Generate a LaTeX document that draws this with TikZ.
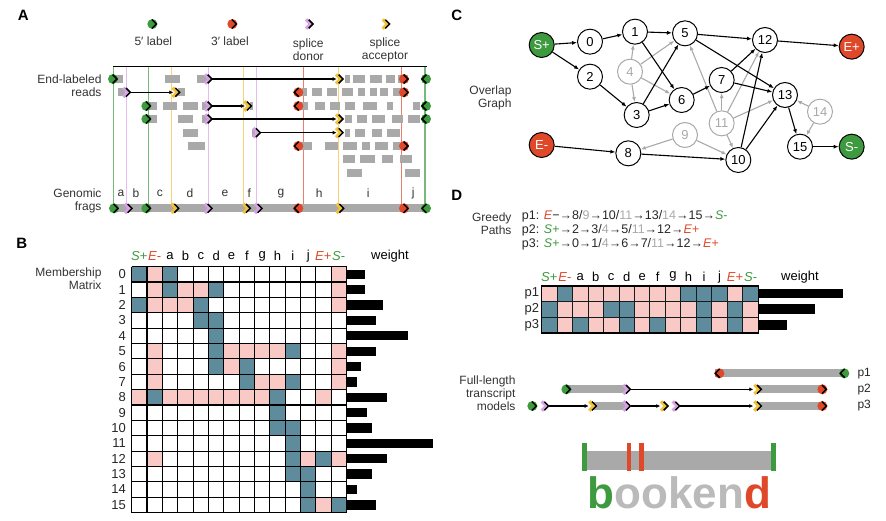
\documentclass[tikz,border=0pt]{standalone}
\usepackage{fontspec}
\setmainfont{Liberation Sans}
\usetikzlibrary{arrows.meta}
\definecolor{cB}{HTML}{5E8C9C}
\definecolor{cP}{HTML}{F9C9C6}
\definecolor{c0}{HTML}{FFFFFF}
\definecolor{mgreen}{HTML}{3E9A3E}
\definecolor{mred}{HTML}{E0482A}
\definecolor{mpink}{HTML}{D9A2E6}
\definecolor{myel}{HTML}{F2C23A}
\definecolor{rgray}{HTML}{A9A9A9}
\newcommand\tmk[4]{%
  \fill[#1] ({#2-(#4)*3},#3) ellipse[x radius=15,y radius=15];
  \draw[line width=1.5pt,line join=miter] ({#2-(#4)*4},#3-13) -- ({#2+(#4)*9},#3) -- ({#2-(#4)*4},#3+13);}
\newcommand\spmk[4]{%
  \draw[#1,line width=3.2pt] ({#2-(#4)*12},#3-14) -- ({#2+(#4)*2},#3) -- ({#2-(#4)*12},#3+14);
  \draw[line width=1.5pt] ({#2-(#4)*4},#3-13) -- ({#2+(#4)*9},#3) -- ({#2-(#4)*4},#3+13);}
\newcommand\blk[3]{\fill[rgray] (#1,#3-12) rectangle (#2,#3+12);}
\begin{document}
\begin{tikzpicture}[x=1pt,y=-1pt,font=\fontsize{12}{13}\selectfont,
  lbl/.style={inner sep=0pt,align=right,anchor=east,text=black!80},
  panel/.style={font=\fontsize{15}{15}\selectfont\bfseries,inner sep=0pt},
  gnode/.style={circle,draw,line width=1pt,minimum size=25pt,inner sep=0pt,fill=white,font=\fontsize{13}{13}\selectfont},
  gg/.style={gnode,draw=rgray,text=rgray},
  ed/.style={-{Latex[length=5pt,width=4pt]},line width=1.1pt},
  eg/.style={ed,rgray},
  rarr/.style={-{Latex[length=4pt,width=4pt]},line width=1.2pt}]
\useasboundingbox (0,0) rectangle (886,520);
%================ A
\begin{scope}[x=0.33333pt,y=-0.33333pt]
\node[panel] (pA) at (70,45) {A};
\draw[line width=1.2pt] (340,200) -- (1280,200);
\foreach \xx/\cc in {340/mgreen,445/mgreen,1275/mgreen,380/mpink,625/mpink,770/mpink,515/myel,730/myel,1015/myel,910/mred,1205/mred}
  \draw[\cc!70,line width=1.1pt] (\xx,200) -- (\xx,625);
% legend
\tmk{mgreen}{460}{72}{1}
\tmk{mred}{700}{72}{1}
\spmk{mpink}{930}{72}{1}
\spmk{myel}{1160}{72}{1}
\node[inner sep=0pt,text=black!80] (l5) at (460,125) {5′ label};
\node[inner sep=0pt,text=black!80] (l3) at (690,125) {3′ label};
\node[inner sep=0pt,text=black!80,align=center] (ld) at (925,150) {splice\\donor};
\node[inner sep=0pt,text=black!80,align=center] (la) at (1155,150) {splice\\acceptor};
\node[lbl] (lr) at (305,257) {End-labeled\\reads};
\node[lbl] (lg) at (305,602) {Genomic\\frags};
% rows
\blk{350}{370}{237}\blk{495}{540}{237}\blk{590}{625}{237}
\foreach \a/\b in {1035/1050,1058/1095,1110/1145,1158/1185,1195/1210} {\blk{\a}{\b}{237}}
\draw[rarr] (635,237) -- (1010,237);
\tmk{mgreen}{342}{237}{1}\spmk{mpink}{627}{237}{1}\spmk{myel}{1020}{237}{1}\tmk{mred}{1215}{237}{1}\tmk{mgreen}{1275}{237}{-1}
%2
\blk{355}{375}{277}\blk{535}{555}{277}
\foreach \a/\b in {905/920,935/965,980/1010,1025/1060,1075/1095,1110/1130,1140/1165,1180/1205} {\blk{\a}{\b}{277}}
\draw[rarr] (390,277) -- (520,277);
\spmk{mpink}{382}{277}{1}\spmk{myel}{530}{277}{1}\tmk{mred}{892}{277}{-1}\tmk{mred}{1215}{277}{1}
%3
\foreach \a/\b in {450/470,488/530,548/595,605/620,750/760,905/925,945/975,990/1020,1035/1065,1090/1130,1160/1180,1240/1260} {\blk{\a}{\b}{318}}
\draw[rarr] (635,318) -- (735,318);
\tmk{mgreen}{442}{318}{1}\spmk{mpink}{627}{318}{1}\spmk{myel}{745}{318}{1}\tmk{mred}{892}{318}{-1}\tmk{mgreen}{1275}{318}{-1}
%4
\foreach \a/\b in {450/470,535/580,605/620,1035/1055,1070/1100,1115/1155,1175/1210,1225/1260} {\blk{\a}{\b}{357}}
\draw[rarr] (635,357) -- (1010,357);
\tmk{mgreen}{442}{357}{1}\spmk{mpink}{627}{357}{1}\spmk{myel}{1020}{357}{1}\tmk{mgreen}{1275}{357}{-1}
%5
\foreach \a/\b in {550/595,755/765,1035/1050,1065/1095,1115/1145,1160/1200} {\blk{\a}{\b}{398}}
\draw[rarr] (780,398) -- (1010,398);
\spmk{mpink}{772}{398}{1}\spmk{myel}{1020}{398}{1}
%6
\foreach \a/\b in {565/615,905/935,975/1015,1030/1070,1085/1110,1125/1165,1180/1200} {\blk{\a}{\b}{438}}
\tmk{mred}{892}{438}{-1}\tmk{mred}{1215}{438}{1}
%7,8
\foreach \a/\b in {1030/1065,1080/1125,1145/1180,1200/1235} {\blk{\a}{\b}{478}}
\foreach \a/\b in {1040/1085,1215/1260} {\blk{\a}{\b}{520}}
% genomic bar
\fill[rgray] (340,613) rectangle (1275,637);
\foreach \t/\xx in {a/363,b/408,c/480,d/570,e/675,f/748,g/843,h/958,i/1105,j/1240}
  \node[inner sep=0pt,text=black!80] at (\xx,580) {\t};
\tmk{mgreen}{345}{625}{1}\spmk{mpink}{387}{625}{1}\tmk{mgreen}{442}{625}{1}\spmk{myel}{527}{625}{1}
\spmk{mpink}{627}{625}{1}\spmk{myel}{742}{625}{1}\spmk{mpink}{777}{625}{1}\tmk{mred}{892}{625}{-1}
\spmk{myel}{1022}{625}{1}\tmk{mred}{1215}{625}{1}\tmk{mgreen}{1275}{625}{-1}
\end{scope}
%================ B
\begin{scope}[shift={(0,230)},x=0.33333pt,y=-0.33333pt]
\node[panel] (pB) at (65,40) {B};
\node[lbl] (mm) at (305,145) {Membership\\Matrix};
\foreach \row [count=\r from 0] in {
 {B,P,B,0,0,0,0,0,0,0,0,0,0,P},{0,P,B,P,P,B,0,0,0,0,0,0,0,P},{B,P,P,P,B,0,0,0,0,0,0,0,0,P},
 {0,0,0,0,B,B,0,0,0,0,0,0,0,0},{0,0,0,0,0,B,0,0,0,0,0,0,0,0},{0,P,0,0,0,B,P,P,P,P,B,0,0,P},
 {0,P,0,0,0,B,P,B,0,0,0,0,0,P},{0,P,0,0,0,0,0,B,P,P,B,0,0,P},{P,B,P,P,P,P,P,P,P,B,0,0,P,0},
 {0,0,0,0,0,0,0,0,0,B,0,0,0,0},{0,0,0,0,0,0,0,0,0,B,B,0,0,0},{0,0,0,0,0,0,0,0,0,0,B,0,0,0},
 {0,P,0,0,0,0,0,0,0,0,B,P,B,P},{0,0,0,0,0,0,0,0,0,0,B,B,0,0},{0,0,0,0,0,0,0,0,0,0,0,B,0,0},
 {0,0,0,0,0,0,0,0,0,0,0,B,P,B}} {
  \node[inner sep=0pt,anchor=east,font=\fontsize{13}{13}\selectfont,text=black!85] at (378,{110+46.1*\r+23}) {\r};
  \foreach \c [count=\k from 0] in \row
    \fill[c\c] ({395+46.07*\k},{110+46.1*\r}) rectangle ++(46.07,46.1);
}
\foreach \k in {0,...,14} \draw[line width=1.1pt] ({395+46.07*\k},110) -- ({395+46.07*\k},847.6);
\foreach \r in {0,...,16} \draw[line width=1.1pt] (395,{110+46.1*\r}) -- (1040,{110+46.1*\r});
\foreach \w [count=\r from 0] in {1095,1095,1148,1128,1225,1128,1083,1072,1160,1100,1115,1300,1160,1115,1070,1128}
  \fill[black] (1042,{110+46.1*\r+9}) rectangle (\w,{110+46.1*\r+37});
\foreach \t [count=\k from 0] in {a,b,c,d,e,f,g,h,i,j}
  \node[inner sep=0pt,font=\fontsize{13}{13}\selectfont] at ({395+46.07*(\k+2)+23},78) {\t};
\node[inner sep=0pt,font=\fontsize{13}{13}\selectfont,text=mgreen] at (418,78) {\textit{S}+};
\node[inner sep=0pt,font=\fontsize{13}{13}\selectfont,text=mred] at (464,78) {\textit{E}-};
\node[inner sep=0pt,font=\fontsize{13}{13}\selectfont,text=mred] at (970,78) {\textit{E}+};
\node[inner sep=0pt,font=\fontsize{13}{13}\selectfont,text=mgreen] at (1016,78) {\textit{S}-};
\node[inner sep=0pt,font=\fontsize{13}{13}\selectfont] at (1170,78) {weight};
\end{scope}
%================ C
\begin{scope}[shift={(450,0)},x=0.33333pt,y=-0.33333pt]
\node[panel] (pC) at (20,45) {C};
\node[lbl] (og) at (185,295) {Overlap\\Graph};
\node[gnode,fill=mgreen,text=white] (Sp) at (275,135) {S+};
\node[gnode,fill=mred,text=white] (Ep) at (1205,140) {E+};
\node[gnode,fill=mred,text=white] (Em) at (275,435) {E-};
\node[gnode,fill=mgreen,text=white] (Sm) at (1205,440) {S-};
\node[gnode] (n0) at (420,125) {0};
\node[gnode] (n1) at (555,95) {1};
\node[gnode] (n5) at (705,100) {5};
\node[gnode] (n12) at (945,120) {12};
\node[gnode] (n2) at (420,230) {2};
\node[gg] (n4) at (540,215) {4};
\node[gnode] (n7) at (815,240) {7};
\node[gnode] (n13) at (1005,285) {13};
\node[gnode] (n6) at (695,300) {6};
\node[gnode] (n3) at (560,345) {3};
\node[gg] (n11) at (815,370) {11};
\node[gg] (n14) at (1110,335) {14};
\node[gg] (n9) at (705,405) {9};
\node[gnode] (n8) at (535,460) {8};
\node[gnode] (n10) at (865,480) {10};
\node[gnode] (n15) at (1050,440) {15};
\foreach \a/\b in {n4/n1,n4/n5,n4/n3,n4/n6,n11/n5,n11/n7,n11/n12,n11/n13,n11/n10,n9/n8,n9/n10,n14/n13,n14/n15}
  \draw[eg] (\a) -- (\b);
\foreach \a/\b in {Sp/n0,Sp/n2,n0/n1,n1/n5,n1/n6,n2/n3,n3/n5,n3/n6,n5/n12,n5/n13,n6/n7,n7/n12,n7/n13,n12/Ep,n13/n15,n15/Sm,Em/n8,n8/n10,n10/n12,n10/n13}
  \draw[ed] (\a) -- (\b);
\end{scope}
%================ D
\begin{scope}[shift={(450,180)},x=0.33333pt,y=-0.33333pt]
\node[panel] (pD) at (20,45) {D};
\node[lbl] (gp) at (185,130) {Greedy\\Paths};
\begin{scope}[every node/.style={inner sep=0pt,anchor=west,font=\fontsize{12.5}{13}\selectfont,text=black!85}]
\node (q1) at (215,110) {p1: \textcolor{mred}{\textit{E}}−→8/\textcolor{rgray}{9}→10/\textcolor{rgray}{11}→13/\textcolor{rgray}{14}→15→\textcolor{mgreen}{\textit{S}-}};
\node (q2) at (215,152) {p2: \textcolor{mgreen}{\textit{S+}}→2→3/\textcolor{rgray}{4}→5/\textcolor{rgray}{11}→12→\textcolor{mred}{\textit{E+}}};
\node (q3) at (215,194) {p3: \textcolor{mgreen}{\textit{S+}}→0→1/\textcolor{rgray}{4}→6→7/\textcolor{rgray}{11}→12→\textcolor{mred}{\textit{E+}}};
\end{scope}
\foreach \row [count=\r from 0] in {{P,B,P,P,P,P,P,P,P,B,B,B,P,B},{B,P,P,P,B,B,P,P,P,P,B,P,B,P},{B,P,B,P,P,B,P,B,P,P,B,P,B,P}} {
  \node[inner sep=0pt,anchor=east,font=\fontsize{13}{13}\selectfont,text=black!85] at (268,{318+47*\r+23}) {p\the\numexpr\r+1\relax};
  \foreach \c [count=\k from 0] in \row
    \fill[c\c] ({275+46.4*\k},{318+47*\r}) rectangle ++(46.4,47);
}
\foreach \k in {1,...,13} \draw[black!80!cB,line width=1pt] ({275+46.4*\k},318) -- ({275+46.4*\k},459);
\foreach \r in {1,2} \draw[black!80!cB,line width=1pt] (275,{318+47*\r}) -- (925,{318+47*\r});
\draw[line width=1.2pt] (275,318) rectangle (925,459);
\foreach \w [count=\r from 0] in {1180,1095,1010}
  \fill[black] (925,{318+47*\r+8}) rectangle (\w,{318+47*\r+37});
\foreach \t [count=\k from 0] in {a,b,c,d,e,f,g,h,i,j}
  \node[inner sep=0pt,font=\fontsize{13}{13}\selectfont] at ({275+46.4*(\k+2)+23},290) {\t};
\node[inner sep=0pt,font=\fontsize{13}{13}\selectfont,text=mgreen] at (298,290) {\textit{S}+};
\node[inner sep=0pt,font=\fontsize{13}{13}\selectfont,text=mred] at (345,290) {\textit{E}-};
\node[inner sep=0pt,font=\fontsize{13}{13}\selectfont,text=mred] at (855,290) {\textit{E}+};
\node[inner sep=0pt,font=\fontsize{13}{13}\selectfont,text=mgreen] at (902,290) {\textit{S}-};
\node[inner sep=0pt,font=\fontsize{13}{13}\selectfont] at (1050,290) {weight};
% models
\node[lbl] (fl) at (197,640) {Full-length\\transcript\\models};
\foreach \t/\yy in {p1/580,p2/628,p3/678} \node[inner sep=0pt,anchor=west,text=black!85] at (1222,\yy) {\t};
\fill[rgray] (795,568) rectangle (1185,592);
\tmk{mred}{805}{580}{-1}\tmk{mgreen}{1180}{580}{-1}
\fill[rgray] (350,616) rectangle (530,640);\fill[rgray] (925,616) rectangle (1125,640);
\draw[rarr] (540,628) -- (910,628);
\tmk{mgreen}{352}{628}{1}\spmk{mpink}{532}{628}{1}\spmk{myel}{925}{628}{1}\tmk{mred}{1120}{628}{1}
\fill[rgray] (430,666) rectangle (530,690);\fill[rgray] (925,666) rectangle (1125,690);
\draw[rarr] (297,678) -- (416,678);
\draw[rarr] (542,678) -- (631,678);
\draw[rarr] (690,678) -- (910,678);
\tmk{mgreen}{250}{678}{1}\spmk{mpink}{287}{678}{1}\spmk{myel}{430}{678}{1}\spmk{mpink}{532}{678}{1}
\spmk{myel}{645}{678}{1}\spmk{mpink}{680}{678}{1}\spmk{myel}{925}{678}{1}\tmk{mred}{1120}{678}{1}
% bookend
\fill[rgray] (400,812) rectangle (975,870);
\fill[mgreen] (396,790) rectangle (410,872);
\fill[mgreen] (964,790) rectangle (978,872);
\fill[mred] (530,790) rectangle (544,872);
\fill[mred] (568,790) rectangle (582,872);
\node[inner sep=0pt,anchor=base,font=\fontsize{44}{44}\selectfont\bfseries] (bk) at (688,985) {\textcolor{mgreen}{b}\textcolor{rgray!80}{ooken}\textcolor{mred}{d}};
\end{scope}
\end{tikzpicture}
\end{document}
